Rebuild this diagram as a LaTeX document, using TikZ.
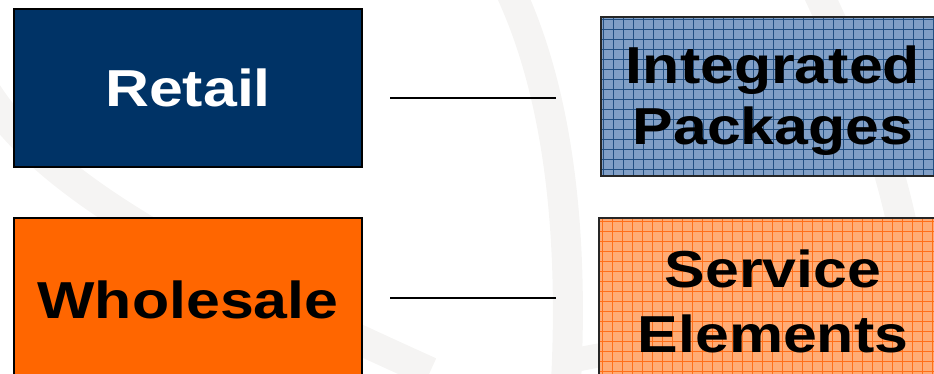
\documentclass[tikz,border=0pt]{standalone}
\usepackage{fontspec}
\newfontfamily\boxfont{Liberation Sans Bold}[FakeStretch=1.17]
\definecolor{navy}{HTML}{003366}
\definecolor{orng}{HTML}{FF6600}
\definecolor{bluefill}{HTML}{819FC6}
\definecolor{bluegrid}{HTML}{224F82}
\definecolor{orfill}{HTML}{FFAC75}
\definecolor{orgrid}{HTML}{FF6E18}
\definecolor{swoosh}{HTML}{F5F4F3}
\tikzset{
  box/.style={draw=black, line width=2.2pt, rectangle, inner sep=0pt, align=center,
    font=\boxfont\fontsize{52}{61}\selectfont},
  boxtext/.style={inner sep=0pt, align=center, text=black,
    font=\boxfont\fontsize{52}{61}\selectfont},
  link/.style={draw=black, line width=2pt},
  band/.style={draw=swoosh, line width=30pt, line cap=butt}
}
\begin{document}
\begin{tikzpicture}[x=1pt,y=-1pt]
\useasboundingbox (0,0) rectangle (934,374);
\clip (0,0) rectangle (934,374);
% faint background swooshes
\draw[band] (505,-20) .. controls (560,90) and (575,240) .. (565,400);
\draw[band] (-40,30) .. controls (-10,160) and (160,250) .. (430,372);
\draw[band] (812,-20) .. controls (860,80) and (890,160) .. (905,240);
\draw[band,line width=24pt] (575,360) .. controls (700,335) and (820,330) .. (950,335);
% left boxes
\node[box, fill=navy, text=white, minimum width=348, minimum height=158] (retail) at (188,88) {Retail};
\node[box, fill=orng, text=black, minimum width=348, minimum height=164] (whole) at (188,300) {Wholesale};
% right boxes: fill and grid
\begin{scope}
  \clip (601,17) rectangle (945,176);
  \fill[bluefill] (601,17) rectangle (945,176);
  \foreach \i in {0,...,34} {\draw[bluegrid, line width=0.8pt] (603+10*\i,17) -- (603+10*\i,176);}
  \foreach \j in {0,...,16} {\draw[bluegrid, line width=0.8pt] (601,19+10*\j) -- (945,19+10*\j);}
\end{scope}
\begin{scope}
  \clip (599,218) rectangle (947,382);
  \fill[orfill] (599,218) rectangle (947,382);
  \foreach \i in {0,...,35} {\draw[orgrid, line width=0.8pt] (602+10*\i,218) -- (602+10*\i,382);}
  \foreach \j in {0,...,17} {\draw[orgrid, line width=0.8pt] (599,221+10*\j) -- (947,221+10*\j);}
\end{scope}
\node[box, draw=black!85, minimum width=344, minimum height=159] (integ) at (773,96.5) {};
\node[box, draw=black!85, minimum width=348, minimum height=164] (serv) at (773,300) {};
\node[boxtext] (integtxt) at (773,101) {Integrated\\Packages};
\node[boxtext] (servtxt) at (773,301) {Service\\[4pt]Elements};
% connectors
\draw[link] (390,98) -- (556,98);
\draw[link] (390,298) -- (556,298);
\end{tikzpicture}
\end{document}
